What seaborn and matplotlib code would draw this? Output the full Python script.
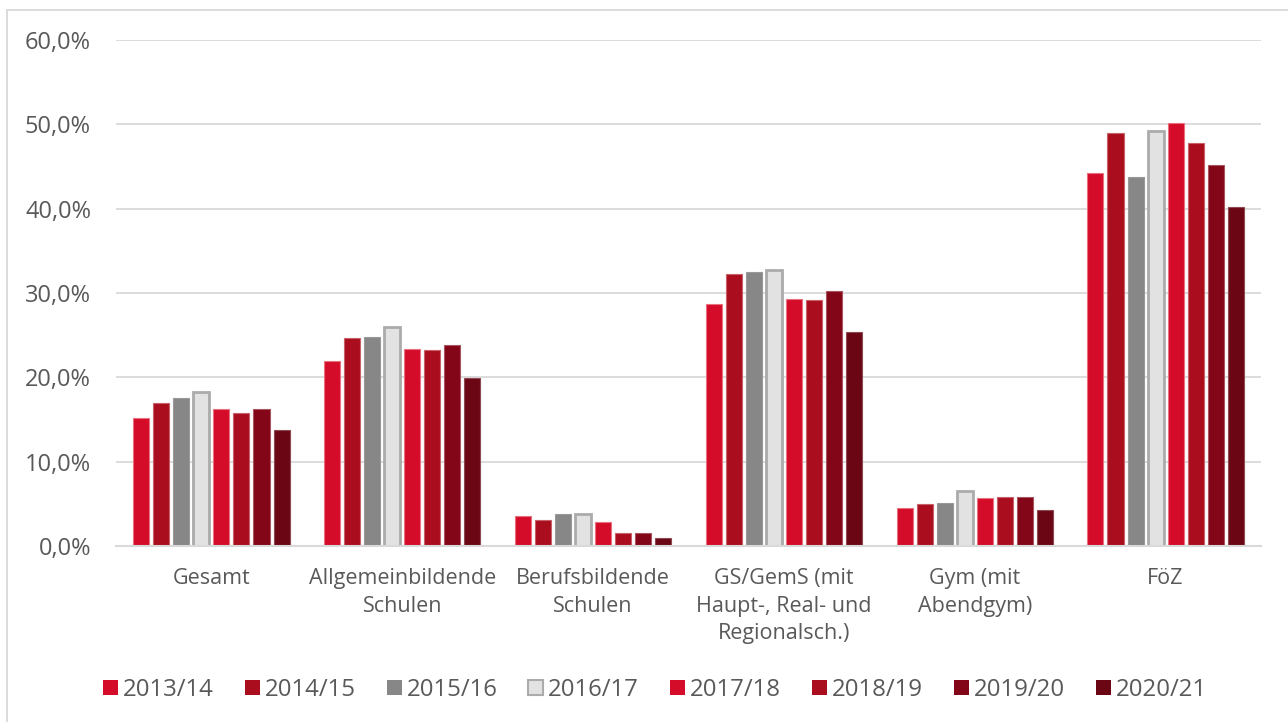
import matplotlib
matplotlib.use("Agg")
import matplotlib.pyplot as plt
import seaborn as sns
import pandas as pd
import numpy as np
from matplotlib.patches import Patch
from matplotlib.ticker import FuncFormatter
from matplotlib.lines import Line2D

categories = ["Gesamt", "Allgemeinbildende\nSchulen", "Berufsbildende\nSchulen",
              "GS/GemS (mit\nHaupt-, Real- und\nRegionalsch.)", "Gym (mit\nAbendgym)", "FöZ"]
years = ["2013/14", "2014/15", "2015/16", "2016/17", "2017/18", "2018/19", "2019/20", "2020/21"]

v_2013 = [15.2, 21.9, 3.6, 28.7, 4.5, 44.2]
v_2014 = [17.0, 24.7, 3.1, 32.3, 5.0, 49.0]
v_2015 = [17.5, 24.8, 3.8, 32.5, 5.1, 43.8]
v_2016 = [18.3, 26.0, 3.8, 32.7, 6.5, 49.2]
v_2017 = [16.2, 23.4, 2.9, 29.3, 5.7, 50.1]
v_2018 = [15.8, 23.2, 1.5, 29.2, 5.8, 47.8]
v_2019 = [16.3, 23.8, 1.6, 30.2, 5.8, 45.2]
v_2020 = [13.7, 19.9, 1.0, 25.4, 4.3, 40.2]

series = [v_2013, v_2014, v_2015, v_2016, v_2017, v_2018, v_2019, v_2020]
colors = ["#D40C29", "#AA0E1E", "#878787", "#E2E2E2", "#D40C29", "#AA0E1E", "#820518", "#6B0715"]
edges = ["#E8707F", "#C8606A", "#999999", "#ABABAB", "#E8707F", "#C8606A", "#A85560", "#8E4A52"]

rows = []
for y, vals in zip(years, series):
    for c, v in zip(categories, vals):
        rows.append({"cat": c, "year": y, "val": v})
df = pd.DataFrame(rows)

sns.set_theme(style="white")
plt.rcParams["font.family"] = ["Open Sans", "DejaVu Sans"]
text_col = "#595959"

fig = plt.figure(figsize=(12.88, 7.22), dpi=100)
ax = fig.add_axes([116/1288, 1-546/722, (1261-116)/1288, (546-40)/722])

sns.barplot(data=df, x="cat", y="val", hue="year", order=categories, hue_order=years,
            palette=colors, width=0.84, gap=0.2, ax=ax, legend=False, saturation=1)

for i, cont in enumerate(ax.containers):
    for p in cont:
        p.set_edgecolor(edges[i])
        p.set_linewidth(2.0 if i == 3 else 0.8)

ax.set_ylim(0, 60)
ax.set_xlim(-0.5, 5.5)
ax.set_yticks(np.arange(0, 61, 10))
ax.yaxis.set_major_formatter(FuncFormatter(lambda v, p: f"{v:.1f}".replace(".", ",") + "%"))
ax.grid(axis="y", color="#D9D9D9", linewidth=1.3)
ax.set_axisbelow(True)
for s in ["top", "right", "left"]:
    ax.spines[s].set_visible(False)
ax.spines["bottom"].set_color("#D9D9D9")
ax.spines["bottom"].set_linewidth(1.5)
ax.set_xlabel("")
ax.set_ylabel("")
ax.tick_params(axis="both", length=0, labelcolor=text_col)
ax.tick_params(axis="y", pad=18, labelsize=17)
ax.tick_params(axis="x", pad=16, labelsize=15.5)
for lab in ax.get_xticklabels():
    lab.set_multialignment("center")
    lab.set_linespacing(1.4)

handles = [Patch(facecolor=colors[i], edgecolor=(colors[i] if i != 3 else "#ABABAB"),
                 linewidth=(1.5 if i == 3 else 0)) for i in range(8)]
leg = fig.legend(handles, years, loc="center", bbox_to_anchor=(655/1288, 1-690/722), ncol=8,
                 frameon=False, fontsize=17.3, handlelength=0.62, handleheight=0.62,
                 handletextpad=0.2, columnspacing=1.3, labelcolor=text_col)

fig.add_artist(Line2D([7/1288, 7/1288], [0, 1-10/722], color="#D9D9D9", linewidth=1.3))
fig.add_artist(Line2D([7/1288, 1], [1-10/722, 1-10/722], color="#D9D9D9", linewidth=1.3))

fig.savefig("out.png", dpi=100)
